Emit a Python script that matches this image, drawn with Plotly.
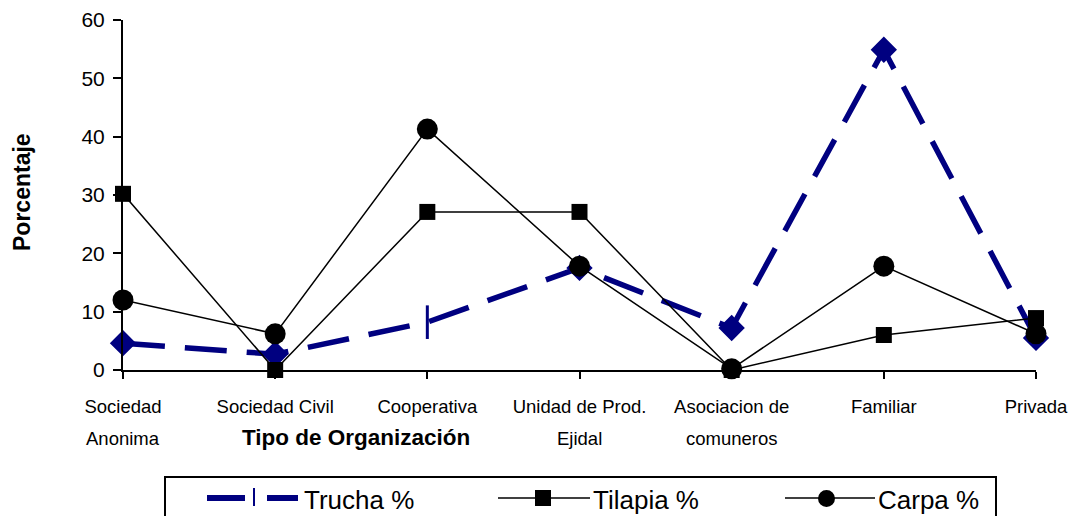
import plotly.graph_objects as go

categories = ["Sociedad<br>Anonima", "Sociedad Civil", "Cooperativa", "Unidad de Prod.<br>Ejidal",
              "Asociacion de<br>comuneros", "Familiar", "Privada"]
trucha = [4.6, 2.7, 8.2, 17.5, 7.2, 54.9, 5.5]
tilapia = [30.2, 0, 27.1, 27.1, 0, 6.0, 8.9]
carpa = [12.0, 6.2, 41.3, 17.8, 0.2, 17.8, 6.2]
series_names = ["Trucha %", "Tilapia %", "Carpa %"]
yticks = [0, 10, 20, 30, 40, 50, 60]

NAVY = "#000080"
ARIAL = "Liberation Sans, Arial, sans-serif"

W, H = 1070, 516
L, R, T, B = 123, 34, 20, 146
PW, PH = W - L - R, H - T - B

def px(x):
    return (x - L) / PW

def py(y):
    return (H - B - y) / PH

first_lines = [c.split("<br>")[0] for c in categories]
second_lines = [c.split("<br>")[1] if "<br>" in c else "" for c in categories]

fig = go.Figure()

trucha_symbols = ["diamond", "diamond", "line-ns", "diamond", "diamond", "diamond", "diamond"]
trucha_sizes = [17, 17, 24, 17, 17, 17, 17]

fig.add_trace(go.Scatter(
    x=categories, y=trucha, name=series_names[0], mode="lines+markers",
    line=dict(color=NAVY, width=5.5, dash="42px,20px"),
    marker=dict(symbol=trucha_symbols, size=trucha_sizes, color=NAVY, opacity=1,
                line=dict(color=NAVY, width=3)),
    opacity=1, cliponaxis=False, showlegend=False))
fig.add_trace(go.Scatter(
    x=categories, y=tilapia, name=series_names[1], mode="lines+markers",
    line=dict(color="black", width=1.5),
    marker=dict(symbol="square", size=16, color="black", opacity=1),
    cliponaxis=False, showlegend=False))
fig.add_trace(go.Scatter(
    x=categories, y=carpa, name=series_names[2], mode="lines+markers",
    line=dict(color="black", width=1.5),
    marker=dict(symbol="circle", size=21, color="black", opacity=1),
    cliponaxis=False, showlegend=False))

shapes = []
annotations = []

# second lines of the category labels, placed on the category axis
for cat, txt in zip(categories, second_lines):
    if txt:
        annotations.append(dict(text=txt, xref="x", yref="paper", x=cat, y=py(438),
                                xanchor="center", yanchor="middle", showarrow=False,
                                font=dict(family=ARIAL, size=18.5, color="black")))

# custom legend (box, symbols, labels)
shapes.append(dict(type="rect", xref="paper", yref="paper",
                   x0=px(165), x1=px(996), y0=py(477), y1=py(540),
                   line=dict(color="black", width=2), fillcolor="rgba(0,0,0,0)"))
ly = 498
shapes.append(dict(type="line", xref="paper", yref="paper", x0=px(207), x1=px(298), y0=py(ly), y1=py(ly),
                   line=dict(color=NAVY, width=6, dash="38px,22px")))
shapes.append(dict(type="line", xref="paper", yref="paper", x0=px(254), x1=px(254), y0=py(488), y1=py(506),
                   line=dict(color=NAVY, width=2)))
shapes.append(dict(type="line", xref="paper", yref="paper", x0=px(498), x1=px(590), y0=py(ly), y1=py(ly),
                   line=dict(color="black", width=1.5)))
shapes.append(dict(type="rect", xref="paper", yref="paper", x0=px(535), x1=px(551), y0=py(490), y1=py(506),
                   line=dict(color="black", width=0), fillcolor="black"))
shapes.append(dict(type="line", xref="paper", yref="paper", x0=px(785), x1=px(875), y0=py(ly), y1=py(ly),
                   line=dict(color="black", width=1.5)))
shapes.append(dict(type="circle", xref="paper", yref="paper", x0=px(818), x1=px(835), y0=py(490), y1=py(507),
                   line=dict(color="black", width=0), fillcolor="black"))
for name, xl in zip(series_names, [302, 591, 876]):
    annotations.append(dict(text=name, xref="paper", yref="paper", x=px(xl), y=py(500),
                            xanchor="left", yanchor="middle", showarrow=False,
                            font=dict(family=ARIAL, size=26, color="black")))

annotations.append(dict(text="<b>Tipo de Organización</b>", xref="paper", yref="paper",
                        x=px(356), y=py(437), xanchor="center", yanchor="middle", showarrow=False,
                        font=dict(family=ARIAL, size=22.5, color="black")))
annotations.append(dict(text="<b>Porcentaje</b>", xref="paper", yref="paper",
                        x=px(22), y=py(192), xanchor="center", yanchor="middle", showarrow=False,
                        textangle=-90, font=dict(family=ARIAL, size=23, color="black")))

fig.update_layout(
    width=W, height=H,
    margin=dict(l=L, r=R, t=T, b=B, autoexpand=False),
    paper_bgcolor="white", plot_bgcolor="white",
    showlegend=False,
    shapes=shapes, annotations=annotations,
    xaxis=dict(type="category", categoryorder="array", categoryarray=categories,
               tickvals=categories, ticktext=first_lines,
               range=[0, len(categories) - 1], showgrid=False, zeroline=False, automargin=False,
               showline=True, linecolor="black", linewidth=2,
               ticks="outside", ticklen=7, tickwidth=2, tickcolor="black", ticklabelstandoff=12,
               tickfont=dict(family=ARIAL, size=18.5, color="black")),
    yaxis=dict(range=[0, 60], tickvals=yticks, showgrid=False, zeroline=False, automargin=False,
               showline=True, linecolor="black", linewidth=2,
               ticks="outside", ticklen=8, tickwidth=2, tickcolor="black", ticklabelstandoff=4,
               tickfont=dict(family=ARIAL, size=21, color="black")),
)

fig.write_html("out.html", config={"displayModeBar": False},
               post_script="document.body.style.margin='0px';")
